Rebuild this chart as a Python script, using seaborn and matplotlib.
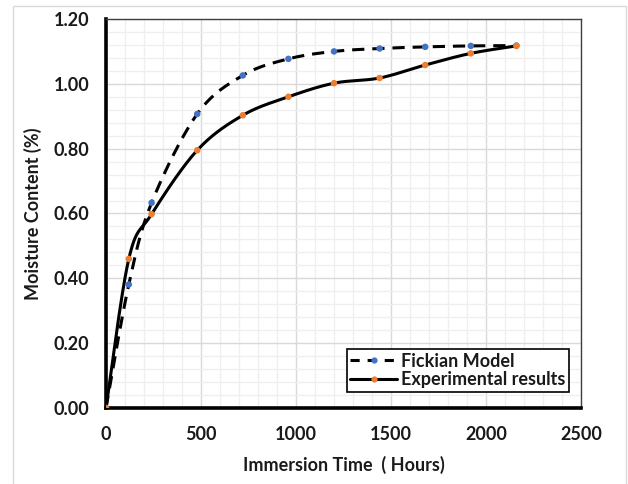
import numpy as np
import pandas as pd
import matplotlib
matplotlib.use("Agg")
import matplotlib.pyplot as plt
from matplotlib.lines import Line2D
from matplotlib.patches import Rectangle
from matplotlib.ticker import MultipleLocator
import seaborn as sns

# Immersion times (hours) and measured / modelled moisture uptake (%)
hours = [0, 120, 240, 480, 720, 960, 1200, 1440, 1680, 1920, 2160]
fickian = [0.0, 0.381, 0.633, 0.907, 1.026, 1.077, 1.100, 1.109, 1.114, 1.117, 1.118]
experimental = [0.0, 0.46, 0.598, 0.795, 0.903, 0.960, 1.002, 1.018, 1.058, 1.094, 1.117]

series_names = ["Fickian Model", "Experimental results"]
x_ticks = [0, 500, 1000, 1500, 2000, 2500]
y_ticks = [0.0, 0.2, 0.4, 0.6, 0.8, 1.0, 1.2]

BLUE = "#4472C4"
ORANGE = "#ED7D31"
TEXT = "#1a1a1a"

sns.set_theme(style="white")
plt.rcParams["font.family"] = ["Lato", "DejaVu Sans"]
plt.rcParams["font.weight"] = "bold"


def smooth_curve(xs, ys, sx=1.0 / 2500, sy=1.0 / 1.2, n=40):
    """Spreadsheet-style smoothed line: cubic Bezier segments through every point."""
    p = np.column_stack([np.asarray(xs, float) * sx, np.asarray(ys, float) * sy])
    pts = np.vstack([p[0], p, p[-1]])
    out = []
    t = np.linspace(0, 1, n)[:, None]
    for i in range(1, len(pts) - 2):
        p0, p1, p2, p3 = pts[i - 1], pts[i], pts[i + 1], pts[i + 2]
        c1 = p1 + (p2 - p0) / 6.0
        c2 = p2 - (p3 - p1) / 6.0
        seg = ((1 - t) ** 3) * p1 + 3 * ((1 - t) ** 2) * t * c1 + 3 * (1 - t) * t ** 2 * c2 + t ** 3 * p2
        out.append(seg if i == 1 else seg[1:])
    c = np.vstack(out)
    return c[:, 0] / sx, c[:, 1] / sy


fig = plt.figure(figsize=(6.28, 4.84), dpi=100)
ax = fig.add_axes([106 / 628, 1 - 408 / 484, (581 - 106) / 628, (408 - 19) / 484])

# light outer frame of the chart area
fig.patches.append(Rectangle((13 / 628, -0.01), (626 - 13) / 628, 1 - 6 / 484 + 0.01,
                             transform=fig.transFigure, fill=False,
                             edgecolor="#d9d9d9", linewidth=1.0, zorder=0))

fx, fy = smooth_curve(hours, fickian)
ex, ey = smooth_curve(hours, experimental)
curves = pd.concat([
    pd.DataFrame({"hours": fx, "moisture": fy, "series": series_names[0]}),
    pd.DataFrame({"hours": ex, "moisture": ey, "series": series_names[1]}),
])
pts = pd.concat([
    pd.DataFrame({"hours": hours, "moisture": fickian, "series": series_names[0]}),
    pd.DataFrame({"hours": hours, "moisture": experimental, "series": series_names[1]}),
])

sns.lineplot(data=curves, x="hours", y="moisture", hue="series", style="series",
             palette=["black", "black"], dashes=[(4, 2.6), ""], linewidth=2.2,
             sort=False, estimator=None, legend=False, ax=ax, zorder=3)
sns.scatterplot(data=pts, x="hours", y="moisture", hue="series",
                palette=[BLUE, ORANGE], s=22, linewidth=0, legend=False,
                ax=ax, zorder=4)

ax.set_xlim(0, 2500)
ax.set_ylim(0, 1.2)
ax.set_xticks(x_ticks)
ax.set_yticks(y_ticks)
ax.set_xticklabels([str(v) for v in x_ticks])
ax.set_yticklabels([f"{v:.2f}" for v in y_ticks])
ax.xaxis.set_minor_locator(MultipleLocator(100))
ax.yaxis.set_minor_locator(MultipleLocator(0.04))
ax.grid(which="major", color="#d9d9d9", linewidth=1.0, zorder=0)
ax.grid(which="minor", color="#efefef", linewidth=0.9, zorder=0)
ax.set_axisbelow(True)

for side in ("top", "right"):
    ax.spines[side].set_color("#404040")
    ax.spines[side].set_linewidth(1.0)
for side in ("left", "bottom"):
    ax.spines[side].set_color("black")
    ax.spines[side].set_linewidth(2.6)

ax.tick_params(axis="both", which="major", direction="out", length=4, width=2.4,
               color="black", labelsize=13, labelcolor=TEXT)
ax.tick_params(axis="y", which="major", pad=8)
ax.tick_params(axis="x", which="major", pad=9)
ax.tick_params(which="minor", length=0)
for lab in ax.get_xticklabels() + ax.get_yticklabels():
    lab.set_fontweight("bold")

ax.set_xlabel("Immersion Time  ( Hours)", fontsize=13, fontweight="bold",
              color=TEXT, labelpad=9)
ax.set_ylabel("Moisture Content (%)", fontsize=13, fontweight="bold",
              color=TEXT, labelpad=8)

handles = [
    Line2D([], [], color="black", linestyle=(0, (3, 2.6)), linewidth=2.2,
           marker="o", markersize=4.5, markerfacecolor=BLUE, markeredgewidth=0),
    Line2D([], [], color="black", linestyle="-", linewidth=2.2,
           marker="o", markersize=4.5, markerfacecolor=ORANGE, markeredgewidth=0),
]
leg = ax.legend(handles, series_names, loc="lower right",
                bbox_to_anchor=(569 / 628, 1 - 392 / 484), bbox_transform=fig.transFigure,
                frameon=True, fancybox=False, framealpha=1, edgecolor="black",
                handlelength=2.6, handletextpad=0.2, borderpad=0.2,
                labelspacing=0.1, borderaxespad=0,
                prop={"size": 13, "weight": "bold"})
leg.get_frame().set_linewidth(1.2)
for t in leg.get_texts():
    t.set_color(TEXT)

fig.savefig("out.png", dpi=100, facecolor="white")
